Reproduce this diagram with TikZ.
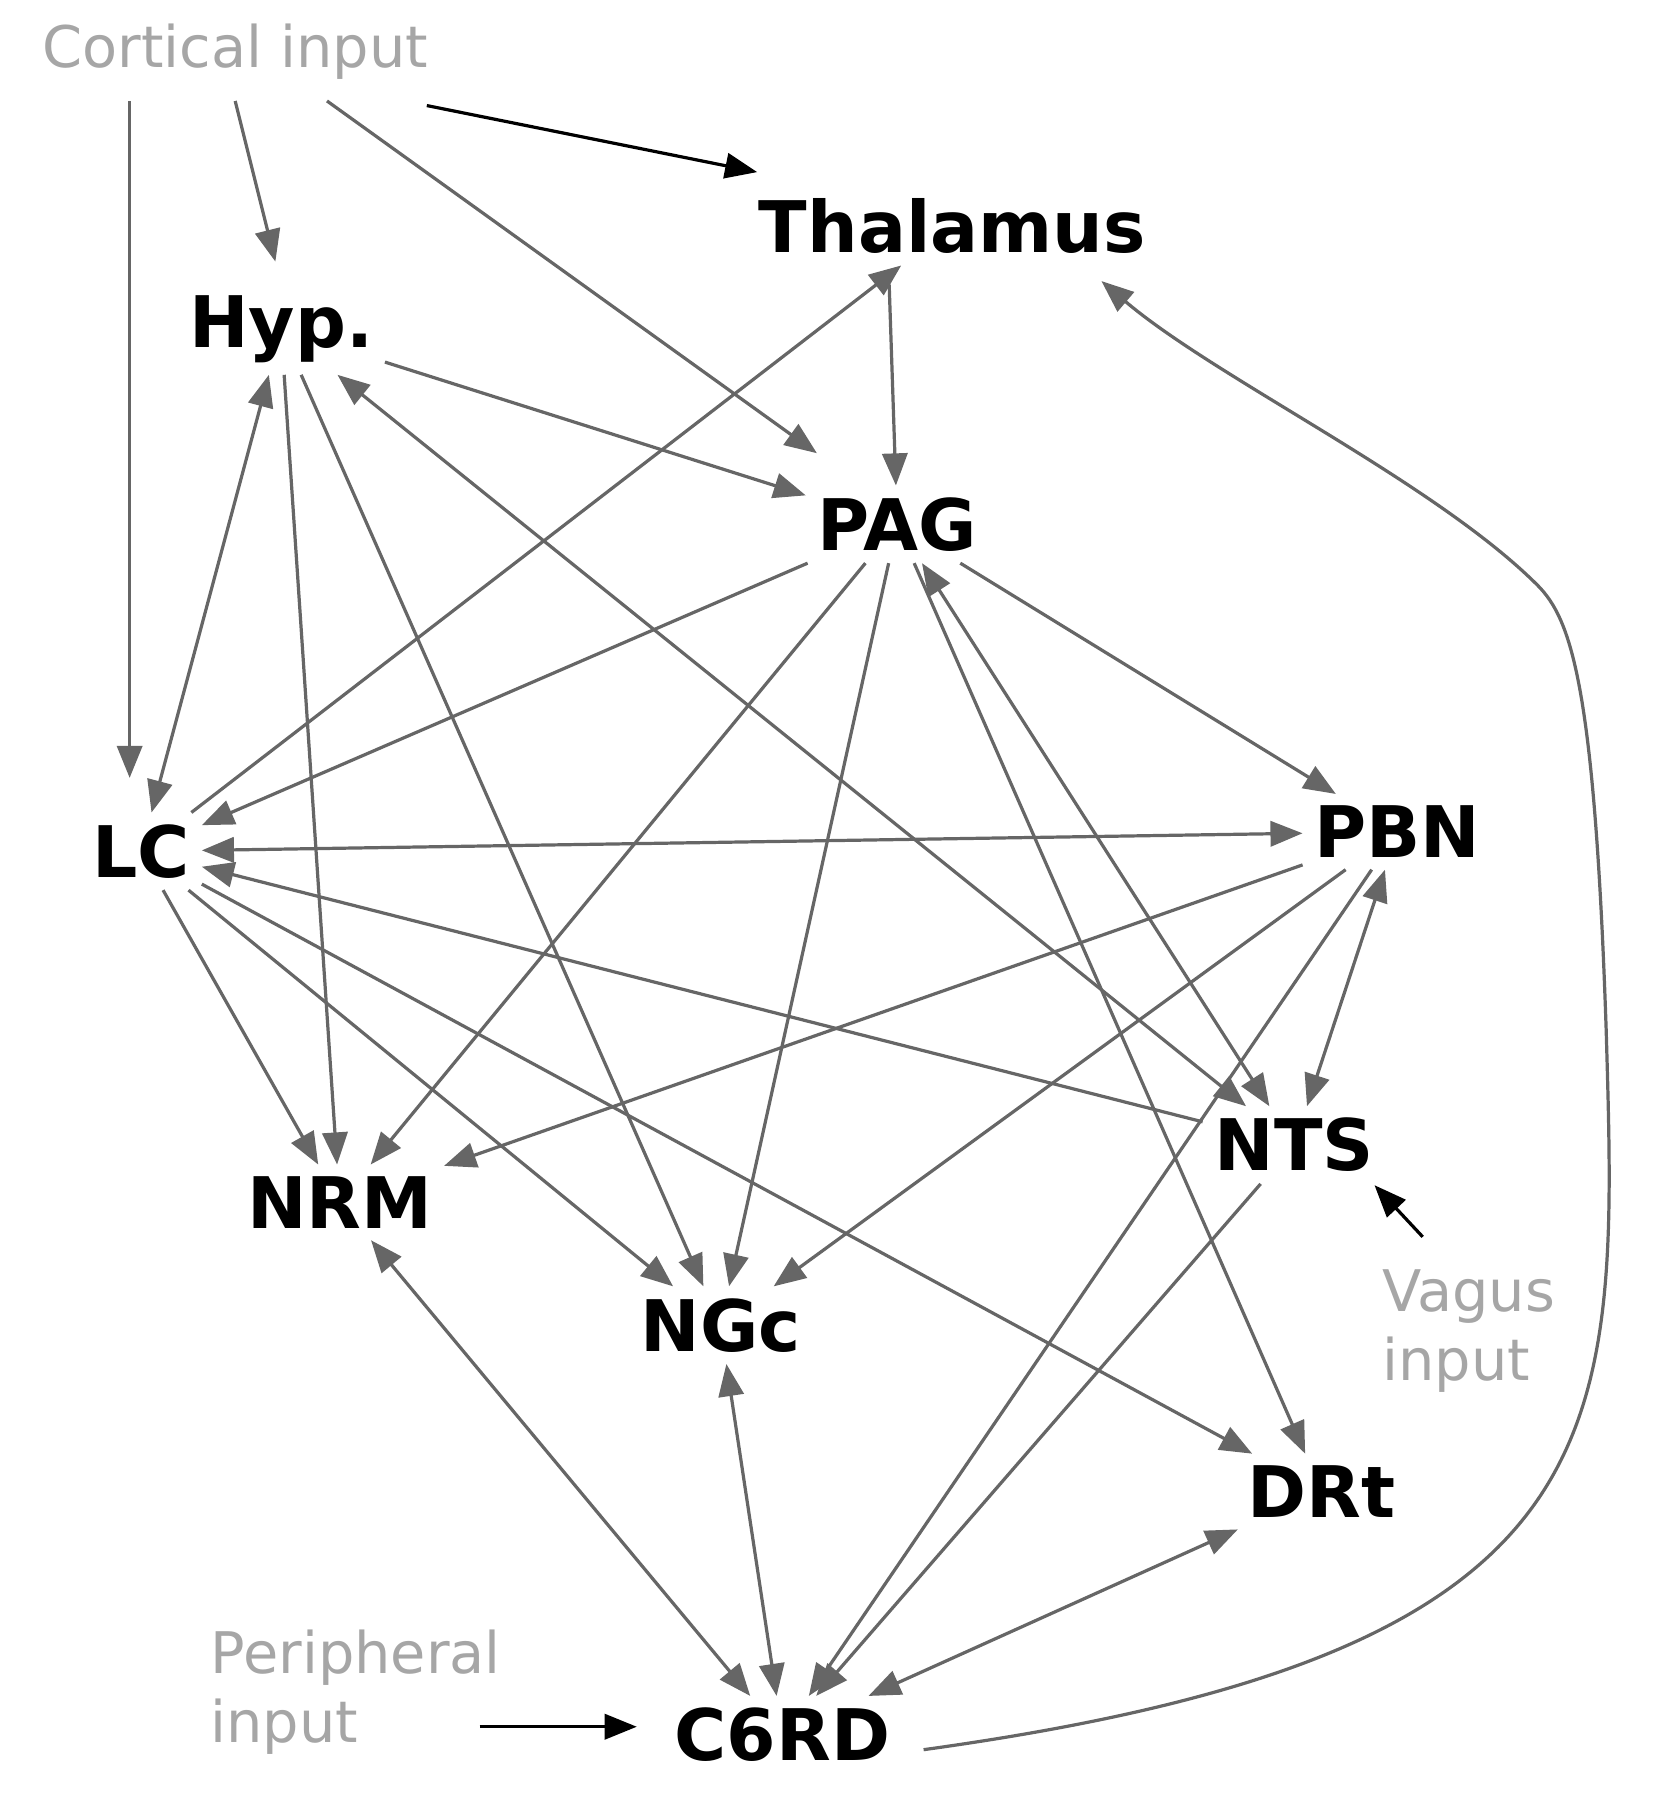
\documentclass[tikz,border=0pt]{standalone}
\usepackage{fontspec}
\setmainfont{DejaVu Sans}
\usetikzlibrary{arrows.meta}
\begin{document}
\begin{tikzpicture}[x=0.5pt,y=-0.5pt,
  reg/.style={font=\bfseries\fontsize{31}{34}\selectfont, inner sep=5pt},
  lab/.style={font=\fontsize{25}{30}\selectfont, text=gray!70, align=left},
  e/.style={draw=black!60, line width=1.4pt, -{Triangle[length=14pt,width=11pt]}},
  be/.style={e, {Triangle[length=14pt,width=11pt]}-{Triangle[length=14pt,width=11pt]}},
  k/.style={draw=black, line width=1.4pt, -{Triangle[length=14pt,width=11pt]}}]
\useasboundingbox (0,0) rectangle (1445,1568);
\node[reg] (thal) at (830,197) {Thalamus};
\node[reg] (hyp) at (245,287) {Hyp.};
\node[reg] (pag) at (782,457) {PAG};
\node[reg] (lc) at (123,742) {LC};
\node[reg] (pbn) at (1218,725) {PBN};
\node[reg] (nts) at (1128,998) {NTS};
\node[reg] (nrm) at (296,1048) {NRM};
\node[reg] (ngc) at (628,1155) {NGc};
\node[reg] (drt) at (1152,1300) {DRt};
\node[reg] (c6) at (682,1512) {C6RD};
\node[lab] (cort) at (205,45) {Cortical input};
\node[lab] (vag) at (1280,1160) {Vagus\\input};
\node[lab] (per) at (310,1475) {Peripheral\\input};
\coordinate (c1) at (113,88);
\coordinate (c2) at (205,88);
\coordinate (c3) at (285,88);
\coordinate (c4) at (372,92);
\coordinate (v1) at (1240,1078);
\coordinate (p1) at (418,1505);
\coordinate (t1) at (805,1525);
\coordinate (th1) at (775,248);
\draw[e] (c1) -- (113,678);
\draw[e] (c2) -- (240,228);
\draw[e] (c3) -- (712,395);
\draw[k] (c4) -- (660,150);
\draw[k] (v1) -- (1198,1033);
\draw[k] (p1) -- (555,1505);
\draw[e] (th1) -- (pag);
\draw[e] (lc) -- (thal);
\draw[e] (t1) .. controls (1420,1440) and (1410,1250) .. (1400,900) .. controls (1390,600) and (1370,540) .. (1340,510) .. controls (1250,420) and (1060,330) .. (960,245);
\draw[e] (hyp) -- (pag);
\draw[be] (hyp) -- (lc);
\draw[e] (hyp) -- (nrm);
\draw[e] (hyp) -- (ngc);
\draw[be] (hyp) -- (nts);
\draw[e] (pag) -- (lc);
\draw[e] (pag) -- (nrm);
\draw[e] (pag) -- (ngc);
\draw[e] (pag) -- (drt);
\draw[be] (pag) -- (nts);
\draw[e] (pag) -- (pbn);
\draw[be] (lc) -- (pbn);
\draw[e] (nts) -- (lc);
\draw[e] (lc) -- (nrm);
\draw[e] (lc) -- (ngc);
\draw[e] (lc) -- (drt);
\draw[e] (pbn) -- (nrm);
\draw[e] (pbn) -- (ngc);
\draw[e] (pbn) -- (c6);
\draw[be] (pbn) -- (nts);
\draw[e] (nts) -- (c6);
\draw[be] (nrm) -- (c6);
\draw[be] (ngc) -- (c6);
\draw[be] (drt) -- (c6);
\end{tikzpicture}
\end{document}
